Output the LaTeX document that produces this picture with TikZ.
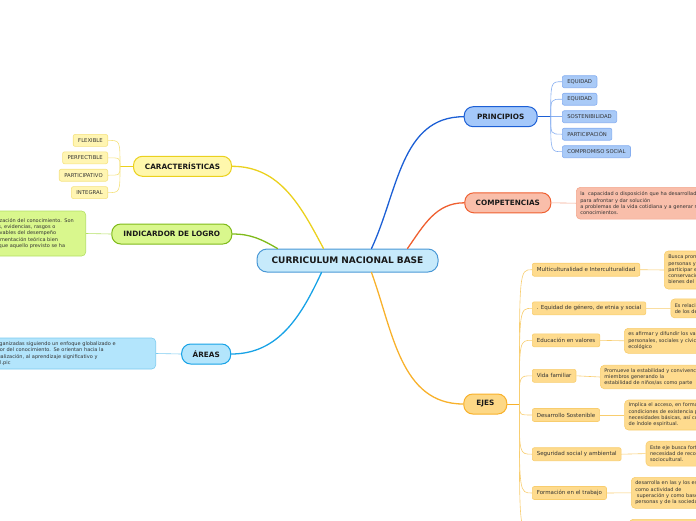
\documentclass[tikz,border=0pt]{standalone}
\usepackage{fontspec}
\setmainfont{DejaVu Sans}
\usetikzlibrary{positioning,calc}
\tikzset{>=latex}

\definecolor{cnbfill}{HTML}{C7EAFB}
\definecolor{cnbline}{HTML}{4A98D6}
\definecolor{prinfill}{HTML}{A4C8FA}
\definecolor{prinline}{HTML}{1C5FD5}
\definecolor{prinleaf}{HTML}{86AEF0}
\definecolor{prinleaffill}{HTML}{A9CAF7}
\definecolor{compfill}{HTML}{F9BEAA}
\definecolor{compline}{HTML}{EF5F30}
\definecolor{compleaf}{HTML}{F3A68D}
\definecolor{ejesfill}{HTML}{FDD886}
\definecolor{ejesline}{HTML}{F8B12B}
\definecolor{ejesleaf}{HTML}{F8CD6E}
\definecolor{ejesleaffill}{HTML}{FEDB8E}
\definecolor{carfill}{HTML}{FFF7AC}
\definecolor{carline}{HTML}{EBD11E}
\definecolor{carleaf}{HTML}{F5E27E}
\definecolor{carleaffill}{HTML}{FFF5B2}
\definecolor{logfill}{HTML}{D9F78D}
\definecolor{logline}{HTML}{7FBA1A}
\definecolor{logleaf}{HTML}{B4E064}
\definecolor{areafill}{HTML}{B3E5FC}
\definecolor{arealine}{HTML}{17A2E6}
\definecolor{arealeaf}{HTML}{7CCBF0}

\tikzset{
  raiz/.style={draw=cnbline, fill=cnbfill, line width=1pt, rounded corners=10pt,
    minimum width=181pt, minimum height=23pt, text=black!90,
    font=\fontsize{9}{10}\selectfont\bfseries},
  rama/.style={line width=1pt, rounded corners=9pt, minimum height=20pt,
    inner xsep=0pt, text=black!90, font=\fontsize{7.3}{8}\selectfont\bfseries},
  hoja/.style={line width=0.6pt, rounded corners=2pt, minimum height=12pt,
    inner xsep=5pt, inner ysep=0pt, text=black!80, font=\fontsize{5.3}{6}\selectfont},
  eje/.style={hoja, draw=ejesleaf, fill=ejesleaffill, minimum height=13pt,
    inner xsep=4.5pt, font=\fontsize{5.5}{6}\selectfont, anchor=west},
  nota/.style={line width=0.6pt, rounded corners=4pt, align=left, text width=200pt,
    inner xsep=4pt, inner ysep=3pt, text=black!80, font=\fontsize{5}{6.3}\selectfont},
  rama line/.style={line width=1.3pt, line cap=round},
  hoja line/.style={line width=0.6pt},
}

\begin{document}
\begin{tikzpicture}[x=1pt,y=-1pt]
\useasboundingbox (0,0) rectangle (696,520);
\clip (0,0) rectangle (696,520);

% ramas principales
\node[raiz] (cnb) at (347.5,260.5) {CURRICULUM NACIONAL BASE};
\node[rama, draw=prinline, fill=prinfill, minimum width=73pt] (prin) at (500.7,116.7) {PRINCIPIOS};
\node[rama, draw=compline, fill=compfill, minimum width=86pt] (comp) at (507.8,202.8) {COMPETENCIAS};
\node[rama, draw=ejesline, fill=ejesfill, minimum width=43pt] (ejes) at (485.3,404) {EJES};
\node[rama, draw=carline, fill=carfill, minimum width=98pt] (car) at (182.5,166.3) {CARACTERÍSTICAS};
\node[rama, draw=logline, fill=logfill, minimum width=120pt] (logro) at (171.8,234) {INDICARDOR DE LOGRO};
\node[rama, draw=arealine, fill=areafill, minimum width=49pt] (areas) at (206.2,354) {ÁREAS};

\draw[rama line, prinline] ($(cnb.north)+(24,0)$) to[out=65,in=180] (prin.west);
\draw[rama line, compline] ($(cnb.north)+(60,0)$) to[out=55,in=180] (comp.west);
\draw[rama line, ejesline] ($(cnb.south)+(24,0)$) to[out=-70,in=180] (ejes.west);
\draw[rama line, carline] ($(cnb.north)+(-24,0)$) to[out=118,in=0] (car.east);
\draw[rama line, logline] ($(cnb.north)+(-70,0)$) to[out=150,in=0] (logro.east);
\draw[rama line, arealine] ($(cnb.south)+(-26,0)$) to[out=-115,in=0] (areas.east);

% principios
\draw[line width=1pt, prinline] (prin.east) -- ++(13,0) coordinate (jp);
\foreach \txt [count=\i] in {EQUIDAD,EQUIDAD,SOSTENIBILIDAD,PARTICIPACIÓN,COMPROMISO SOCIAL}{
  \node[hoja, draw=prinleaf, fill=prinleaffill, anchor=west] (prin\i) at (562,64.2+17.5*\i) {\txt};
  \draw[hoja line, prinleaf] (jp) .. controls (jp |- prin\i.west) .. (prin\i.west);
}

% caracteristicas
\draw[line width=1pt, carline] (car.west) -- ++(-13,0) coordinate (jc);
\foreach \txt [count=\i] in {FLEXIBLE,PERFECTIBLE,PARTICIPATIVO,INTEGRAL}{
  \node[hoja, draw=carleaf, fill=carleaffill, anchor=east] (car\i) at (108,123+17.4*\i) {\txt};
  \draw[hoja line, carleaf] (jc) .. controls (jc |- car\i.east) .. (car\i.east);
}

% competencias
\node[nota, draw=compleaf, fill=compfill, anchor=west, minimum height=31.7pt] (comptxt) at (576,203.2)
  {la\ \ capacidad o disposición que ha desarrollado una persona\\para afrontar y dar solución\\a problemas de la vida cotidiana y a generar nuevos\\conocimientos.};
\draw[hoja line, compleaf] (comp.east) -- (comptxt.west);

% indicador de logro
\node[nota, draw=logleaf, fill=logfill, anchor=east, text width=96pt, minimum height=45pt] (logrotxt) at (86,233.5)
  {a utilización del conocimiento. Son\\logros, evidencias, rasgos o\\observables del desempeño\\fundamentación teórica bien\\para que aquello previsto se ha};
\draw[hoja line, logleaf] (logro.west) -- (logrotxt.east);

% areas
\node[nota, draw=arealeaf, fill=areafill, anchor=east, text width=173pt, minimum height=31pt] (areatxt) at (156,353.5)
  {Están organizadas siguiendo un enfoque globalizado e\\integrador del conocimiento. Se orientan hacia la\\contextualización, al aprendizaje significativo y\\funcional.pic};
\draw[hoja line, arealeaf] (areas.west) -- (areatxt.east);

% ejes
\draw[line width=1pt, ejesline] (ejes.east) -- ++(12,0) coordinate (je);
\node[eje] (eje1) at (532,269.7) {Multiculturalidad e Interculturalidad};
\node[eje] (eje2) at (532,308.3) {. Equidad de género, de etnia y social};
\node[eje] (eje3) at (532,340.3) {Educación en valores};
\node[eje] (eje4) at (532,375.8) {Vida familiar};
\node[eje] (eje5) at (532,415) {Desarrollo Sostenible};
\node[eje] (eje6) at (532,454.2) {Seguridad social y ambiental};
\node[eje] (eje7) at (532,493) {Formación en el trabajo};
\coordinate (eje8) at (532,532);

\node[nota, draw=ejesleaf, fill=ejesleaffill, anchor=west, minimum height=38pt] (txt1) at (664,270)
  {Busca promover que las\\personas y los pueblos\\participar en la\\conservación de los\\bienes del patrimonio.};
\node[nota, draw=ejesleaf, fill=ejesleaffill, anchor=west, minimum height=19pt] (txt2) at (670.5,308.4)
  {Es relación de respeto\\de los derechos};
\node[nota, draw=ejesleaf, fill=ejesleaffill, anchor=west, minimum height=25pt] (txt3) at (624,340.8)
  {es afirmar y difundir los valores\\personales, sociales y cívicos\\ecológico};
\node[nota, draw=ejesleaf, fill=ejesleaffill, anchor=west, minimum height=23pt] (txt4) at (600,377)
  {Promueve la estabilidad y convivencia de sus\\miembros generando la\\estabilidad de niños/as como parte};
\node[nota, draw=ejesleaf, fill=ejesleaffill, anchor=west, minimum height=30pt] (txt5) at (624.3,415)
  {Implica el acceso, en forma equitativa, a\\condiciones de existencia para satisfacer\\necesidades básicas, así como las\\de índole espiritual.};
\node[nota, draw=ejesleaf, fill=ejesleaffill, anchor=west, minimum height=25pt] (txt6) at (645.7,453.6)
  {Este eje busca fortalecer la\\necesidad de reconocer el entorno\\sociocultural.};
\node[nota, draw=ejesleaf, fill=ejesleaffill, anchor=west, minimum height=31pt] (txt7) at (631,492.8)
  {desarrolla en las y los estudiantes\\como actividad de\\\ superación y como base\\personas y de la sociedad};
\node[nota, draw=ejesleaf, fill=ejesleaffill, anchor=north west, minimum height=30pt] (txt8) at (629,519) {};

\foreach \i in {1,...,7}{
  \draw[hoja line, ejesleaf] (je) .. controls (je |- eje\i.west) .. (eje\i.west);
  \draw[hoja line, ejesleaf] (eje\i.east) -- (txt\i.west);
}
\draw[hoja line, ejesleaf] (je) .. controls (je |- eje8) .. (eje8);
%\draw[help lines] (0,0) grid[step=50] (696,520);
\end{tikzpicture}
\end{document}
